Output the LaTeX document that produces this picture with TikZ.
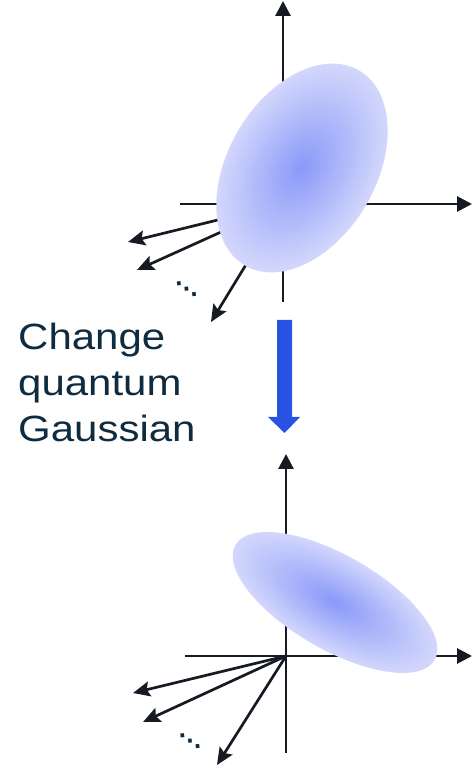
\documentclass[tikz,border=0pt]{standalone}
\usepackage{fontspec}
\setmainfont{Liberation Sans}
\newfontfamily\labelfont[FakeStretch=1.15]{Liberation Sans}
\newfontfamily\symfont{DejaVu Sans}
\usetikzlibrary{arrows.meta}
\definecolor{axiscol}{HTML}{161A22}
\definecolor{textcol}{HTML}{0F2B40}
\definecolor{gin}{HTML}{8A9AF8}
\definecolor{gout}{HTML}{D3D7FC}
\definecolor{bluearrow}{HTML}{2952E3}
\tikzset{
  axisline/.style={draw=axiscol, line width=2.8pt, -{Triangle[length=15pt,width=15pt]}},
  vecline/.style={draw=axiscol, line width=2.7pt, -{Stealth[length=17pt,width=15pt,inset=3pt]}},
  labeltext/.style={anchor=base west, inner sep=0pt, text=textcol, font=\labelfont\fontsize{36.5}{46}\selectfont},
  dotstext/.style={inner sep=0pt, text=textcol, font=\symfont\bfseries\fontsize{21}{21}\selectfont, rotate=6}
}
\begin{document}
\begin{tikzpicture}[x=1pt,y=1pt]
\useasboundingbox (0,0) rectangle (472,776);
% ---------- top diagram ----------
\coordinate (o1) at (283,572);
\coordinate (t1x0) at (180,572);
\coordinate (t1x1) at (472,572);
\coordinate (t1y0) at (283,474);
\coordinate (t1y1) at (283,775);
\coordinate (v11) at (128,534);
\coordinate (v12) at (137,506);
\coordinate (v13) at (211,454);
\draw[axisline] (t1x0) -- (t1x1);
\draw[axisline] (t1y0) -- (t1y1);
\draw[vecline] (o1) -- (v11);
\draw[vecline] (o1) -- (v12);
\draw[vecline] (o1) -- (v13);
\node[dotstext] (d1) at (186.5,487) {⋱};
\begin{scope}[shift={(302,608)}, rotate=59.6]
  \foreach \i in {0,...,59} {
    \pgfmathsetmacro\r{1-\i/60}
    \pgfmathtruncatemacro\p{\i*100/59}
    \fill[gin!\p!gout] (0,0) ellipse ({113*\r} and {74*\r});
  }
\end{scope}
% ---------- label and blue arrow ----------
\node[labeltext] (l1) at (18,426) {Change};
\node[labeltext] (l2) at (18,380) {quantum};
\node[labeltext] (l3) at (18,334) {Gaussian};
\fill[bluearrow] (277,456) -- (292,456) -- (292,359) -- (300,359) -- (284.5,343) -- (268,359) -- (277,359) -- cycle;
% ---------- bottom diagram ----------
\coordinate (o2) at (286,120);
\coordinate (t2x0) at (185,120);
\coordinate (t2x1) at (472,120);
\coordinate (t2y0) at (286,23);
\coordinate (t2y1) at (286,322);
\coordinate (v21) at (133,83);
\coordinate (v22) at (143,54);
\coordinate (v23) at (217,11);
\draw[axisline] (t2x0) -- (t2x1);
\draw[axisline] (t2y0) -- (t2y1);
\draw[vecline] (o2) -- (v21);
\draw[vecline] (o2) -- (v22);
\draw[vecline] (o2) -- (v23);
\node[dotstext] (d2) at (190,35) {⋱};
\begin{scope}[shift={(335,173.5)}, rotate=-30]
  \foreach \i in {0,...,59} {
    \pgfmathsetmacro\r{1-\i/60}
    \pgfmathtruncatemacro\p{\i*100/59}
    \fill[gin!\p!gout] (0,0) ellipse ({115*\r} and {47*\r});
  }
\end{scope}
\end{tikzpicture}
\end{document}
